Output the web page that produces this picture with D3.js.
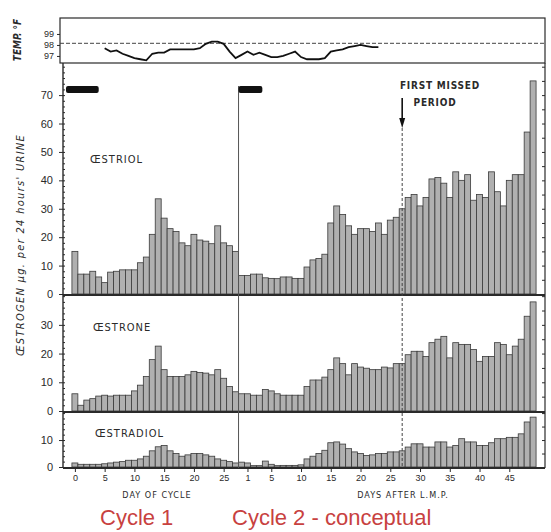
<!DOCTYPE html>
<html>
<head>
<meta charset="utf-8">
<script src="https://cdn.jsdelivr.net/npm/d3@7"></script>
<style>
  body { margin: 0; background: #fff; }
  svg { display: block; font-family: "DejaVu Sans Condensed", "Liberation Sans Narrow", sans-serif; }
</style>
</head>
<body>
<div id="chart"></div>
<script>
// ---- data ----
// days shown for each cycle
const cycle1Days = d3.range(0, 28);   // day of cycle
const cycle2Days = d3.range(0, 50);   // days after L.M.P.
const cycle2Offset = 28;              // where cycle 2 day 0 sits on the day axis

// oestrogen excretion, µg per 24 hours' urine
const oestriol1 = [15, 7, 7, 8, 6, 4, 7.7, 8, 8.5, 8.5, 8.5, 11, 13, 21, 33.5, 26.7, 23, 22, 18, 17, 21, 19, 18.6, 17.7, 24, 18, 17, 15];
const oestriol2 = [6.5, 6.5, 7, 7, 5.7, 5.5, 5.4, 6, 6, 5.5, 5.5, 9.5, 12, 12.5, 14, 25, 31, 28, 24, 21, 23, 23, 22, 25, 21, 26, 27, 30, 34, 35, 31, 34, 40.5, 41, 39, 34, 43, 40, 42, 33, 35, 34, 43, 36, 31, 40, 42, 42, 57, 75];
const oestrone1 = [6, 2, 3.8, 4.3, 5.2, 5.5, 5.2, 5.5, 5.5, 5.5, 7, 9, 12, 17.9, 22.6, 14.4, 12, 12, 12, 12.6, 13.8, 13.4, 13.2, 12.6, 14.4, 11.4, 8.5, 6.7];
const oestrone2 = [6, 6, 5.5, 5.5, 7.5, 7, 6, 5.5, 5.5, 5.5, 5.5, 8.5, 10.8, 10.8, 11.8, 14.4, 18.5, 16.5, 12.6, 16.5, 15.3, 14.9, 14.4, 14.4, 15.3, 15, 16.5, 16.5, 19.6, 20.8, 20.8, 19, 23.8, 25, 26, 18.5, 23.8, 23.2, 23.2, 21.4, 17.3, 19, 19, 23.8, 23.2, 19.6, 22.6, 25, 33, 38];
const oestradiol1 = [1.5, 1, 1, 1, 1, 1.2, 1.5, 1.8, 2, 2.5, 2.5, 3, 4, 6, 7.5, 8, 6, 5, 4, 4.5, 5, 5, 4.5, 4, 3, 2.5, 2, 1.5];
const oestradiol2 = [1.8, 1.5, 0.5, 0.5, 2.2, 1, 0.5, 0.6, 0.6, 0.6, 0.8, 3, 4, 5, 6.2, 9, 9.3, 8.5, 6.8, 5.6, 5, 4.3, 4.5, 5, 5, 5.6, 5.6, 6, 7.4, 8.6, 8.6, 7.4, 7.4, 9.3, 9.3, 7.4, 8, 10.5, 9.3, 9.3, 8, 8, 9, 10.5, 10.5, 11, 11, 12.3, 16.7, 18.5];

// basal temperature, °F
const temp1Start = 5;   // cycle 1 temperatures start on day 5
const temp1 = [97.7, 97.4, 97.5, 97.2, 97.0, 96.8, 96.7, 96.6, 97.2, 97.3, 97.3, 97.6, 97.6, 97.6, 97.6, 97.6, 97.7, 98.1, 98.3, 98.3, 98.1, 97.4, 96.8];
const temp2 = [97.1, 97.4, 97.1, 97.3, 97.1, 96.9, 96.9, 97.0, 97.2, 97.4, 96.9, 96.7, 96.7, 96.7, 96.8, 97.4, 97.5, 97.6, 97.8, 97.9, 98.0, 97.9, 97.8, 97.8];
const coverLine = 98.15;
const tempTicks = [97, 98, 99];

// menstruation bars (day extents) and first missed period
const menses1 = [-1.5, 4];
const menses2 = [-0.5, 3.5];
const firstMissedDay = 27;

// x axis tick labels
const ticks1 = [0, 5, 10, 15, 20, 25];
const ticks2 = [1, 5, 10, 15, 20, 25, 30, 35, 40, 45];

// ---- drawing ----
document.addEventListener("DOMContentLoaded", function () {
    const width = 551, height = 532;
    const ink = "#2a2a2a";

    const svg = d3.select("#chart").append("svg")
        .attr("width", width)
        .attr("height", height);

    // one shared day axis for both cycles
    const x = d3.scaleLinear().domain([-2, 79]).range([63, 545]);
    function pos(cycle, day) { return cycle === 1 ? day : cycle2Offset + day; }

    const panels = [
        { name: "ŒSTRIOL", c1: oestriol1, c2: oestriol2,
          y: d3.scaleLinear().domain([0, 81.3]).range([294, 63]),
          ticks: d3.range(0, 71, 10), minor: d3.range(0, 81, 2), right: d3.range(0, 81, 5), lx: 90, ly: 163 },
        { name: "ŒSTRONE", c1: oestrone1, c2: oestrone2,
          y: d3.scaleLinear().domain([0, 40.4]).range([411, 295]),
          ticks: [0, 10, 20, 30], minor: d3.range(0, 41, 2), right: d3.range(0, 41, 5), lx: 93, ly: 331 },
        { name: "ŒSTRADIOL", c1: oestradiol1, c2: oestradiol2,
          y: d3.scaleLinear().domain([0, 20.4]).range([467, 412]),
          ticks: [0, 10], minor: d3.range(0, 21, 2), right: d3.range(0, 21, 5), lx: 95, ly: 437 }
    ];

    // bars
    panels.forEach(function (p) {
        const rows = p.c1.map((v, i) => ({ pos: pos(1, cycle1Days[i]), v: v }))
            .concat(p.c2.map((v, i) => ({ pos: pos(2, cycle2Days[i]), v: v })));

        svg.append("g").selectAll("rect")
            .data(rows)
            .join("rect")
            .attr("x", d => x(d.pos - 0.5))
            .attr("width", d => x(d.pos + 0.5) - x(d.pos - 0.5))
            .attr("y", d => p.y(d.v))
            .attr("height", d => p.y(0) - p.y(d.v))
            .attr("fill", "#b0b0b0")
            .attr("stroke", "#3a3a3a")
            .attr("stroke-width", 0.8);

        // major ticks + labels
        const ax = svg.append("g")
            .attr("transform", "translate(63,0)")
            .call(d3.axisLeft(p.y).tickValues(p.ticks).tickSize(4).tickPadding(6));
        ax.select(".domain").remove();
        ax.selectAll("text").attr("font-size", 11).attr("fill", ink);
        ax.selectAll("line").attr("stroke", ink);

        // minor ticks inside the axis
        const mi = svg.append("g")
            .attr("transform", "translate(63,0)")
            .call(d3.axisRight(p.y).tickValues(p.minor).tickSize(2).tickFormat(""));
        mi.select(".domain").remove();
        mi.selectAll("line").attr("stroke", ink);

        // right edge ticks
        const ri = svg.append("g")
            .attr("transform", "translate(545,0)")
            .call(d3.axisLeft(p.y).tickValues(p.right).tickSize(3).tickFormat(""));
        ri.select(".domain").remove();
        ri.selectAll("line").attr("stroke", ink);

        svg.append("text")
            .attr("x", p.lx).attr("y", p.ly)
            .attr("font-size", 11)
            .attr("letter-spacing", 1)
            .attr("fill", ink)
            .text(p.name);
    });

    // frame and panel separators
    svg.append("line").attr("x1", 63).attr("x2", 63).attr("y1", 63).attr("y2", 468)
        .attr("stroke", ink).attr("stroke-width", 1.4);
    svg.append("line").attr("x1", 545).attr("x2", 545).attr("y1", 63).attr("y2", 468)
        .attr("stroke", ink).attr("stroke-width", 1.2);
    [panels[0].y(0) + 1, panels[1].y(0) + 1, 468].forEach(function (yy) {
        svg.append("line").attr("x1", 63).attr("x2", 545).attr("y1", yy).attr("y2", yy)
            .attr("stroke", ink).attr("stroke-width", 1.8);
    });

    // x axis
    const tickPos = ticks1.map(d => pos(1, d)).concat(ticks2.map(d => pos(2, d)));
    const tickLab = ticks1.concat(ticks2);
    const xa = svg.append("g")
        .attr("transform", "translate(0,468)")
        .call(d3.axisBottom(x).tickValues(tickPos).tickSize(4).tickPadding(3)
            .tickFormat((d, i) => tickLab[i]));
    xa.select(".domain").remove();
    xa.selectAll("text").attr("font-size", 9).attr("fill", ink);
    xa.selectAll("line").attr("stroke", ink);

    svg.append("text").attr("x", 157).attr("y", 498).attr("text-anchor", "middle")
        .attr("font-size", 9).attr("letter-spacing", 1).attr("fill", ink).text("DAY OF CYCLE");
    svg.append("text").attr("x", 403).attr("y", 498).attr("text-anchor", "middle")
        .attr("font-size", 9).attr("letter-spacing", 1).attr("fill", ink).text("DAYS AFTER L.M.P.");

    // y title
    svg.append("text")
        .attr("transform", "translate(24,245) rotate(-90)")
        .attr("text-anchor", "middle")
        .attr("font-size", 11)
        .attr("font-style", "italic")
        .attr("letter-spacing", 1.3)
        .attr("fill", ink)
        .text("ŒSTROGEN µg. per 24 hours' URINE");

    // cycle boundary line
    svg.append("line")
        .attr("x1", x(cycle2Offset - 0.5)).attr("x2", x(cycle2Offset - 0.5))
        .attr("y1", 86).attr("y2", 468)
        .attr("stroke", "#555").attr("stroke-width", 1);

    // menstruation bars
    const yTop = panels[0].y;
    [menses1.map(d => pos(1, d)), menses2.map(d => pos(2, d))].forEach(function (m) {
        svg.append("rect")
            .attr("x", x(m[0])).attr("width", x(m[1]) - x(m[0]))
            .attr("y", yTop(72) - 3.5).attr("height", 7)
            .attr("rx", 2)
            .attr("fill", "#111");
    });

    // first missed period
    const xm = x(pos(2, firstMissedDay));
    svg.append("line").attr("x1", xm).attr("x2", xm).attr("y1", 98).attr("y2", 122)
        .attr("stroke", "#111").attr("stroke-width", 1.6);
    svg.append("path")
        .attr("d", `M${xm - 3},118 L${xm + 3},118 L${xm},128 Z`)
        .attr("fill", "#111");
    svg.append("line").attr("x1", xm).attr("x2", xm).attr("y1", 128).attr("y2", 468)
        .attr("stroke", "#444").attr("stroke-width", 1).attr("stroke-dasharray", "3,2");
    svg.append("text").attr("x", 440).attr("y", 89).attr("text-anchor", "middle")
        .attr("font-size", 10).attr("font-weight", "bold").attr("letter-spacing", 0.8)
        .attr("fill", ink).text("FIRST MISSED");
    svg.append("text").attr("x", 435).attr("y", 106).attr("text-anchor", "middle")
        .attr("font-size", 10).attr("font-weight", "bold").attr("letter-spacing", 0.8)
        .attr("fill", ink).text("PERIOD");

    // ---- temperature panel ----
    const yT = d3.scaleLinear().domain([96.36, 100.45]).range([63, 18]);
    svg.append("rect").attr("x", 60).attr("y", 18).attr("width", 485).attr("height", 45)
        .attr("fill", "none").attr("stroke", ink).attr("stroke-width", 1.2);
    svg.append("line").attr("x1", 60).attr("x2", 545)
        .attr("y1", yT(coverLine)).attr("y2", yT(coverLine))
        .attr("stroke", "#444").attr("stroke-width", 1).attr("stroke-dasharray", "4,2");
    const ta = svg.append("g")
        .attr("transform", "translate(60,0)")
        .call(d3.axisLeft(yT).tickValues(tempTicks).tickSize(3).tickPadding(3).tickFormat(d3.format("d")));
    ta.select(".domain").remove();
    ta.selectAll("text").attr("font-size", 9).attr("fill", ink);
    ta.selectAll("line").attr("stroke", ink);

    const tempPts = temp1.map((t, i) => ({ pos: pos(1, temp1Start + i), t: t }))
        .concat(temp2.map((t, i) => ({ pos: pos(2, i), t: t })));
    svg.append("path")
        .datum(tempPts)
        .attr("fill", "none")
        .attr("stroke", "#111")
        .attr("stroke-width", 1.8)
        .attr("d", d3.line().x(d => x(d.pos)).y(d => yT(d.t)));

    svg.append("text")
        .attr("transform", "translate(21,40) rotate(-90)")
        .attr("text-anchor", "middle")
        .attr("font-size", 10)
        .attr("font-style", "italic")
        .attr("font-weight", "bold")
        .attr("fill", ink)
        .text("TEMP. °F");

    // ---- red cycle captions ----
    svg.append("text").attr("x", 100).attr("y", 525)
        .attr("font-family", "Liberation Sans, Arial, sans-serif")
        .attr("font-size", 22).attr("fill", "#c8413f").text("Cycle 1");
    svg.append("text").attr("x", 232).attr("y", 525)
        .attr("font-family", "Liberation Sans, Arial, sans-serif")
        .attr("font-size", 22).attr("fill", "#c8413f").text("Cycle 2 - conceptual");
});
</script>
</body>
</html>
